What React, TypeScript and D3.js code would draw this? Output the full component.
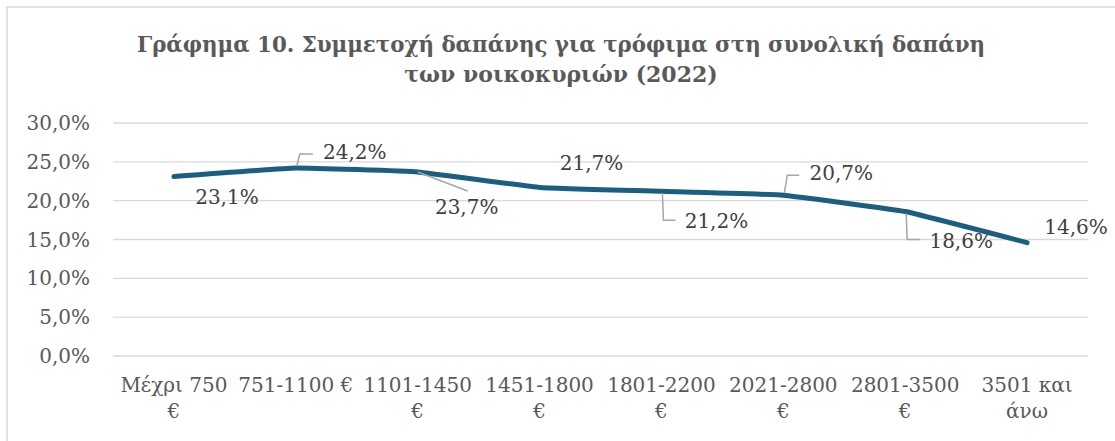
import { useMemo } from "react";
import * as d3 from "d3";

const TITLE_LINES = [
  "Γράφημα 10. Συμμετοχή δαπάνης για τρόφιμα στη συνολική δαπάνη",
  "των νοικοκυριών (2022)",
];

const categories = [
  ["Μέχρι 750", "€"],
  ["751-1100 €"],
  ["1101-1450", "€"],
  ["1451-1800", "€"],
  ["1801-2200", "€"],
  ["2021-2800", "€"],
  ["2801-3500", "€"],
  ["3501 και", "άνω"],
];

const values = [23.1, 24.2, 23.7, 21.7, 21.2, 20.7, 18.6, 14.6];

const yTicks = [0, 5, 10, 15, 20, 25, 30];

// label placement, relative to the point (text centre), plus leader type
const labelPos = [
  { dx: 53, dy: 20, leader: "none" },
  { dx: 59, dy: -16, leader: "up" },
  { dx: 49, dy: 35, leader: "diag" },
  { dx: 52, dy: -24, leader: "none" },
  { dx: 55, dy: 30, leader: "down" },
  { dx: 58, dy: -22, leader: "up" },
  { dx: 56, dy: 29, leader: "down" },
  { dx: 49, dy: -16, leader: "none" },
];

const WIDTH = 1115;
const HEIGHT = 441;
const MARGIN = { top: 123, right: 27, bottom: 85, left: 113 };
const FONT = "'DejaVu Serif', 'Liberation Serif', serif";

const fmt = (v: number) => v.toFixed(1).replace(".", ",") + "%";

export default function App() {
  const boundsWidth = WIDTH - MARGIN.left - MARGIN.right;
  const boundsHeight = HEIGHT - MARGIN.top - MARGIN.bottom;

  const xScale = useMemo(
    () =>
      d3
        .scaleBand()
        .domain(categories.map((_, i) => String(i)))
        .range([0, boundsWidth]),
    [boundsWidth]
  );
  const yScale = useMemo(
    () => d3.scaleLinear().domain([0, 30]).range([boundsHeight, 0]),
    [boundsHeight]
  );

  const px = (i: number) => (xScale(String(i)) ?? 0) + xScale.bandwidth() / 2;

  const linePath =
    d3
      .line<number>()
      .x((_, i) => px(i))
      .y((d) => yScale(d))
      .curve(d3.curveCardinal.tension(0.75))(values) ?? "";

  return (
    <svg
      width={WIDTH}
      height={HEIGHT}
      style={{ position: "absolute", left: 0, top: 0, background: "#fff" }}
    >
      <rect x={7} y={7} width={WIDTH + 20} height={HEIGHT + 20} fill="#fff" stroke="#d9d9d9" strokeWidth={1.5} />

      {TITLE_LINES.map((t, i) => (
        <text
          key={i}
          x={561}
          y={52 + i * 30}
          textAnchor="middle"
          fontFamily={FONT}
          fontWeight="bold"
          fontSize={22}
          fill="#595959"
          textLength={i === 0 ? 848 : undefined}
          lengthAdjust={i === 0 ? "spacingAndGlyphs" : undefined}
        >
          {t}
        </text>
      ))}

      <g transform={`translate(${MARGIN.left},${MARGIN.top})`}>
        {yTicks.map((t) => (
          <g key={t}>
            <line x1={0} x2={boundsWidth} y1={yScale(t)} y2={yScale(t)} stroke="#d9d9d9" strokeWidth={1.3} />
            <text
              x={-23}
              y={yScale(t)}
              dy="0.35em"
              textAnchor="end"
              fontFamily={FONT}
              fontSize={20}
              fill="#595959"
            >
              {fmt(t)}
            </text>
          </g>
        ))}

        {categories.map((lines, i) => (
          <text
            key={i}
            x={px(i)}
            y={boundsHeight + 36}
            textAnchor="middle"
            fontFamily={FONT}
            fontSize={20}
            fill="#595959"
          >
            {lines.map((l, j) => (
              <tspan key={j} x={px(i)} dy={j === 0 ? 0 : 26}>
                {l}
              </tspan>
            ))}
          </text>
        ))}

        <path d={linePath} fill="none" stroke="#1a5e80" strokeWidth={5} strokeLinecap="round" strokeLinejoin="round" />

        {values.map((v, i) => {
          const x = px(i);
          const y = yScale(v);
          const p = labelPos[i];
          const lx = x + p.dx;
          const ly = y + p.dy;
          let leader: string | null = null;
          if (p.leader === "up") {
            leader = `M${x + 1},${y - 2} L${x + 4},${ly + 2} L${lx - 42},${ly + 2}`;
          } else if (p.leader === "down") {
            leader = `M${x + 1},${y + 2} L${x + 2},${ly - 1} L${lx - 41},${ly - 1}`;
          } else if (p.leader === "diag") {
            leader = `M${x},${y} L${lx + 1},${ly - 16}`;
          }
          return (
            <g key={i}>
              {leader && <path d={leader} fill="none" stroke="#a6a6a6" strokeWidth={1.5} />}
              <text
                x={lx}
                y={ly}
                dy="0.35em"
                textAnchor="middle"
                fontFamily={FONT}
                fontSize={20}
                fill="#404040"
              >
                {fmt(v)}
              </text>
            </g>
          );
        })}
      </g>
    </svg>
  );
}
